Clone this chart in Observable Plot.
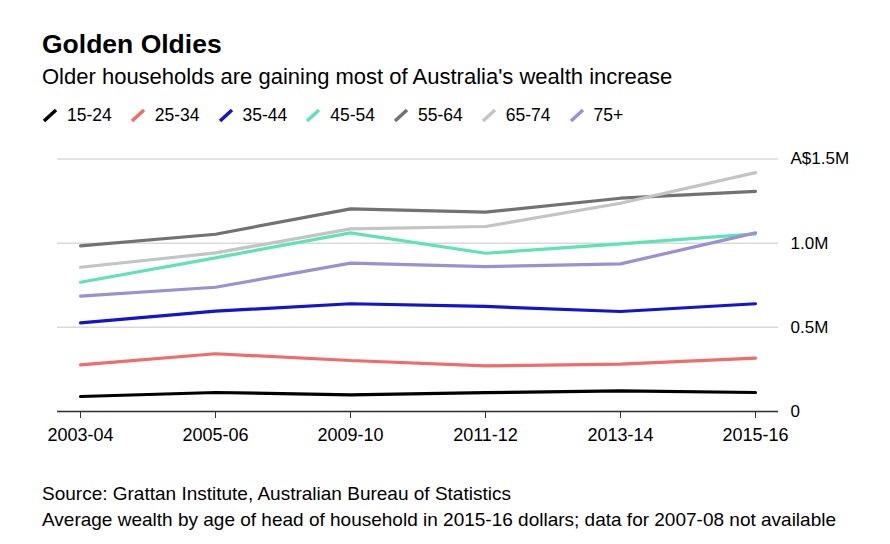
<!DOCTYPE html>
<html>
<head>
<meta charset="utf-8">
<script src="https://cdn.jsdelivr.net/npm/d3@7"></script>
<script src="https://cdn.jsdelivr.net/npm/@observablehq/plot@0.6"></script>
<style>
  html, body { margin: 0; padding: 0; background: #fff; }
  body { width: 890px; height: 544px; position: relative; overflow: hidden;
         font-family: "Liberation Sans", Arial, Helvetica, sans-serif; color: #000; }
  .abs { position: absolute; left: 42px; white-space: nowrap; line-height: 1.15; }
  #title { top: 29px; font-size: 26.5px; font-weight: bold; }
  #subtitle { top: 64px; font-size: 22px; }
  #legend { top: 105px; font-size: 17.5px; display: flex; align-items: center; }
  .item { display: inline-flex; align-items: center; margin-right: 18px; }
  .item svg { margin-right: 9px; }
  #chart { position: absolute; left: 0; top: 140px; }
  .foot { font-size: 19px; }
  #src { top: 483px; }
  #note { top: 509px; }
</style>
</head>
<body>
<div id="title" class="abs">Golden Oldies</div>
<div id="subtitle" class="abs">Older households are gaining most of Australia's wealth increase</div>
<div id="legend" class="abs"></div>
<div id="chart"></div>
<div id="src" class="abs foot">Source: Grattan Institute, Australian Bureau of Statistics</div>
<div id="note" class="abs foot">Average wealth by age of head of household in 2015-16 dollars; data for 2007-08 not available</div>
<script>
// Data (A$ millions)
const periods = ["2003-04", "2005-06", "2009-10", "2011-12", "2013-14", "2015-16"];
const groups = ["15-24", "25-34", "35-44", "45-54", "55-64", "65-74", "75+"];
const colors = ["#000000", "#f06c6b", "#1414d0", "#5ee4b4", "#727272", "#c4c4c4", "#9b91d2"];
const age15_24 = [0.089, 0.113, 0.099, 0.112, 0.123, 0.113];
const age25_34 = [0.277, 0.343, 0.303, 0.271, 0.281, 0.317];
const age35_44 = [0.527, 0.596, 0.640, 0.624, 0.594, 0.640];
const age45_54 = [0.768, 0.913, 1.061, 0.940, 0.996, 1.055];
const age55_64 = [0.984, 1.053, 1.204, 1.184, 1.267, 1.308];
const age65_74 = [0.857, 0.942, 1.085, 1.099, 1.237, 1.419];
const age75plus = [0.685, 0.738, 0.881, 0.861, 0.877, 1.061];
const yTicks = [0, 0.5, 1.0, 1.5];
const yTickLabels = ["0", "0.5M", "1.0M", "A$1.5M"];

const seriesValues = [age15_24, age25_34, age35_44, age45_54, age55_64, age65_74, age75plus];
const rows = [];
groups.forEach((g, gi) => {
  periods.forEach((p, pi) => rows.push({period: p, group: g, value: seriesValues[gi][pi]}));
});

// Legend
const legend = document.getElementById("legend");
groups.forEach((g, i) => {
  const item = document.createElement("span");
  item.className = "item";
  item.innerHTML = `<svg width="16" height="15"><line x1="2" y1="13" x2="14" y2="2" stroke="${colors[i]}" stroke-width="3.5" stroke-linecap="butt"/></svg><span>${g}</span>`;
  legend.appendChild(item);
});

const chart = Plot.plot({
  width: 890,
  height: 320,
  marginTop: 18.5,
  marginBottom: 49,
  marginLeft: 57,
  marginRight: 112,
  style: {fontFamily: "'Liberation Sans', Arial, Helvetica, sans-serif", fontSize: "17px", color: "#000", background: "#fff"},
  x: {type: "point", domain: periods, padding: 0.17, label: null},
  y: {domain: [0, 1.5], label: null},
  color: {domain: groups, range: colors},
  marks: [
    Plot.gridY(yTicks, {stroke: "#d9d9d9", strokeOpacity: 1, strokeWidth: 1.5}),
    Plot.ruleY([0], {stroke: "#333", strokeWidth: 1.5}),
    Plot.lineY(rows, {x: "period", y: "value", z: "group", stroke: "group", strokeWidth: 3.2, strokeLinejoin: "miter", strokeLinecap: "round"}),
    Plot.axisX({tickSize: 7, tickPadding: 10, fontSize: 18, stroke: "#333"}),
    Plot.axisY(yTicks, {anchor: "right", tickSize: 0, tickPadding: 12, textAnchor: "start", fontSize: 17,
      tickFormat: (d) => yTickLabels[yTicks.indexOf(d)]})
  ]
});
document.getElementById("chart").appendChild(chart);
</script>
</body>
</html>
